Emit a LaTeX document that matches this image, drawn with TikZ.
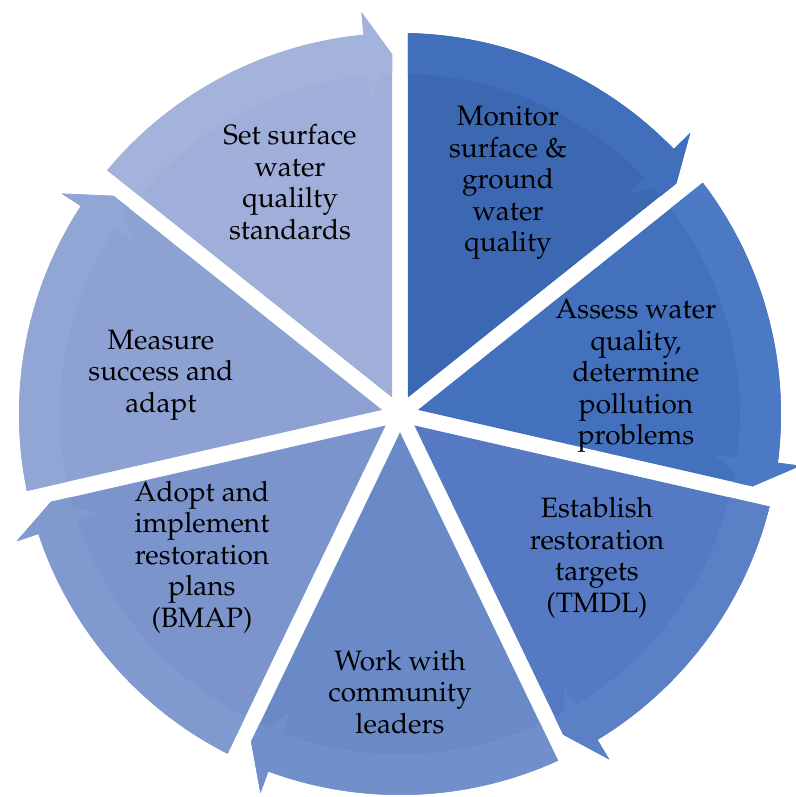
\documentclass[tikz,border=0pt]{standalone}
\usepackage[T1]{fontenc}
\renewcommand{\rmdefault}{ppl}
\usetikzlibrary{calc}
\definecolor{ci0}{HTML}{3C67B1}\definecolor{cb0}{HTML}{416FBB}
\definecolor{ci1}{HTML}{4471BD}\definecolor{cb1}{HTML}{4C79C3}
\definecolor{ci2}{HTML}{5579C2}\definecolor{cb2}{HTML}{5B80C6}
\definecolor{ci3}{HTML}{6A89C7}\definecolor{cb3}{HTML}{708FCB}
\definecolor{ci4}{HTML}{7B94CC}\definecolor{cb4}{HTML}{8099CF}
\definecolor{ci5}{HTML}{8DA1D3}\definecolor{cb5}{HTML}{92A6D6}
\definecolor{ci6}{HTML}{A0AFD9}\definecolor{cb6}{HTML}{A4B3DB}
\tikzset{lbl/.style={align=center,inner sep=0pt,text=black,font=\fontsize{28}{31.5}\selectfont}}
\begin{document}
\begin{tikzpicture}[x=1pt,y=1pt]
\useasboundingbox (0,0) rectangle (795,797);
\def\R{381}\def\Rc{360}\def\Ri{340}\def\Rb{404}\def\Rib{317}
\begin{scope}[shift={(400,383)}]
\foreach \k in {0,...,6}{
  \pgfmathsetmacro\az{90-51.4286*\k}
  \pgfmathsetmacro\ao{\az-51.4286}
  \pgfmathsetmacro\am{\az-25.7143}
  \fill[ci\k] (\az-1.2:\R pt) arc[start angle=\az-1.2, end angle=\ao+5.5, radius=\R pt]
     -- (\ao+5.5:\Rb pt) -- (\ao+1.27:\Rc pt) -- (\am:18.4pt) -- cycle;
  \begin{scope}
    \clip (\az-1.2:\R pt) arc[start angle=\az-1.2, end angle=\ao+5.5, radius=\R pt]
     -- (\ao+5.5:\Rb pt) -- (\ao+1.27:\Rc pt) -- (\am:18.4pt) -- cycle;
    \fill[cb\k,even odd rule] (0,0) circle[radius=440pt] (0,0) circle[radius=\Ri pt];
    \fill[cb\k] (\ao+5.5:\Ri pt+1pt) -- (\ao+5.5:\Rib pt) -- (\ao+1.27:\Rc pt)
       -- (\ao-1:\Rc pt) -- (\ao-1:\Ri pt+1pt) -- cycle;
  \end{scope}
}
\end{scope}
\node[lbl] (set) at (290,615) {Set surface\\water\\qualilty\\standards};
\node[lbl] (mon) at (508,614) {Monitor\\surface \&\\ground\\water\\quality};
\node[lbl] (ass) at (636,421) {Assess water\\quality,\\determine\\pollution\\problems};
\node[lbl] (est) at (597,239) {Establish\\restoration\\targets\\(TMDL)};
\node[lbl] (work) at (400,105) {Work with\\community\\leaders};
\node[lbl] (adopt) at (202,240) {Adopt and\\implement\\restoration\\plans\\(BMAP)};
\node[lbl] (meas) at (161,422) {Measure\\success and\\adapt};
\end{tikzpicture}
\end{document}
